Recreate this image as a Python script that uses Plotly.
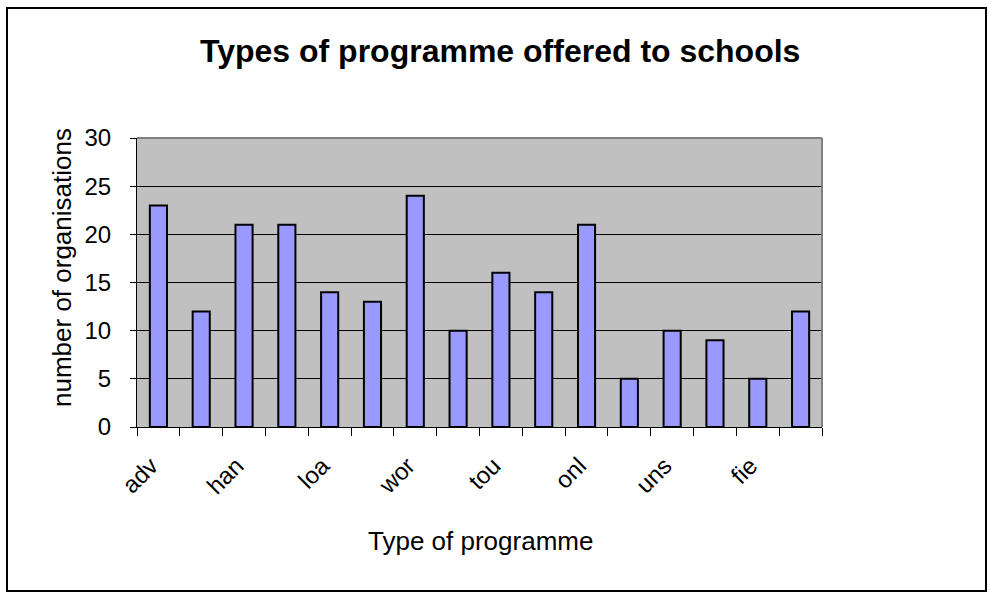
import plotly.graph_objects as go

labels = ["adv", "", "han", "", "loa", "", "wor", "", "tou", "", "onl", "", "uns", "", "fie", ""]
values = [23, 12, 21, 21, 14, 13, 24, 10, 16, 14, 21, 5, 10, 9, 5, 12]
y_ticks = [0, 5, 10, 15, 20, 25, 30]
title = "Types of programme offered to schools"
x_title = "Type of programme"
y_title = "number of organisations"

n = len(values)
xs = list(range(n))
L, R, T, B = 137, 822, 138, 427
W, H = 989, 598
pw, ph = R - L, B - T

fig = go.Figure()
fig.add_trace(go.Bar(
    x=xs, y=values, width=0.4,
    marker=dict(color="#9999FF", line=dict(color="black", width=2)),
    showlegend=False, hoverinfo="skip",
))
fig.add_trace(go.Scatter(x=[0], y=[0], xaxis="x2", mode="markers",
                         marker=dict(opacity=0), showlegend=False, hoverinfo="skip"))

font = "Liberation Sans, Arial, sans-serif"
fig.update_layout(
    width=W, height=H,
    margin=dict(l=L, r=W - R, t=T, b=H - B, pad=0),
    paper_bgcolor="white", plot_bgcolor="#C0C0C0",
    font=dict(family=font, size=24, color="black"),
    xaxis=dict(range=[-0.5, n - 0.5], tickmode="array",
               tickvals=[i - 0.5 for i in range(n + 1)], ticktext=[""] * (n + 1),
               ticks="outside", ticklen=8, tickcolor="black", tickwidth=1,
               showline=True, linecolor="black", linewidth=1, showgrid=False, zeroline=False),
    xaxis2=dict(range=[-0.5, n - 0.5], overlaying="x", side="bottom", anchor="y",
                tickmode="array", tickvals=[i - 0.17 for i in xs if labels[i]],
                ticktext=[l for l in labels if l], tickangle=-45, ticks="",
                showline=False, showgrid=False, zeroline=False, ticklabelstandoff=19),
    yaxis=dict(range=[0, 30], tickmode="array", tickvals=y_ticks,
               ticktext=[str(v) for v in y_ticks],
               ticks="outside", ticklen=6, tickcolor="black", tickwidth=1,
               showline=True, linecolor="black", linewidth=1,
               showgrid=True, gridcolor="black", gridwidth=1, zeroline=False,
               ticklabelstandoff=14),
)

fig.add_shape(type="line", xref="paper", yref="paper", x0=0, x1=1, y0=1, y1=1,
              line=dict(color="#808080", width=2), layer="above")
fig.add_shape(type="line", xref="paper", yref="paper", x0=1, x1=1, y0=0, y1=1,
              line=dict(color="#808080", width=2), layer="above")
fig.add_shape(type="rect", xref="paper", yref="paper",
              x0=(7 - L) / pw, x1=(986 - L) / pw,
              y0=(B - 591) / ph, y1=(B - 8) / ph,
              line=dict(color="black", width=2), layer="above")

fig.add_annotation(text="<b>" + title + "</b>", xref="paper", yref="paper",
                   x=(500 - L) / pw, y=(B - 51) / ph, showarrow=False,
                   xanchor="center", yanchor="middle", font=dict(size=32))
fig.add_annotation(text=x_title, xref="paper", yref="paper",
                   x=(480 - L) / pw, y=(B - 541) / ph, showarrow=False,
                   xanchor="center", yanchor="middle", font=dict(size=26))
fig.add_annotation(text=y_title, xref="paper", yref="paper", textangle=-90,
                   x=(62 - L) / pw, y=(B - 268) / ph, showarrow=False,
                   xanchor="center", yanchor="middle", font=dict(size=26))

fig.write_html("out.html", config={"displayModeBar": False},
               post_script="document.body.style.margin='0';document.body.style.overflow='hidden';")
